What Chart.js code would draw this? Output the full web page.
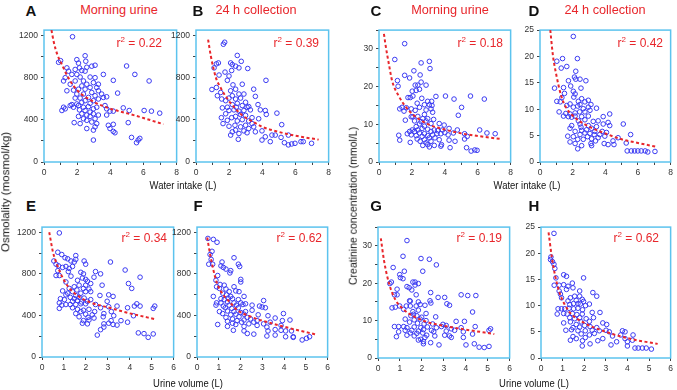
<!DOCTYPE html>
<html><head><meta charset="utf-8">
<script src="https://cdn.jsdelivr.net/npm/chart.js@4.4.1/dist/chart.umd.min.js"></script>
<style>
html,body{margin:0;padding:0;background:#fff}
body{width:677px;height:390px;position:relative;overflow:hidden;font-family:"Liberation Sans",Arial,sans-serif}
canvas{position:absolute}
.t{position:absolute;white-space:nowrap;line-height:1}
.letter{font-weight:bold;font-size:15px;color:#111;transform:translate(-50%,-50%)}
.title{font-size:12.7px;color:#e8262b;transform:translate(-50%,-50%)}
.r2{font-size:12px;color:#e8262b}
.r2 sup{font-size:8px;vertical-align:5px;line-height:0}
.xt{font-size:10.5px;color:#111;transform:translate(-50%,-50%) scaleX(0.9)}
.yt{color:#111;transform:translate(-50%,-50%) rotate(-90deg)}
</style></head><body>
<script>
// ---------- data ----------
const panelLetters = ['A','B','C','D','E','F','G','H'];
const panelTitles = ['Morning urine','24 h collection','Morning urine','24 h collection'];
const r2Values = ['0.22','0.39','0.18','0.42','0.34','0.62','0.19','0.62'];
const xTitles = ['Water intake (L)','Urine volume (L)'];
const yTitles = ['Osmolality (mosmol/kg)','Creatinine concentration (mmol/L)'];

// A: water intake vs osmolality, morning urine
const ptsA = [[1.72,1187],[2.48,1007],[2.52,955],[1.0,960],[0.88,945],[1.98,970],[2.08,937],[2.58,898],[2.14,892],[1.88,877],[2.28,867],[1.38,892],[1.48,861],[1.68,830],[1.98,830],[2.48,861],[2.88,908],[3.08,917],[1.28,799],[1.18,768],[2.18,805],[2.78,805],[3.08,799],[3.58,830],[1.88,768],[2.38,768],[4.18,774],[5.48,830],[6.34,768],[1.58,737],[2.28,721],[2.58,737],[2.98,752],[3.28,737],[2.08,690],[2.48,690],[2.78,706],[3.18,706],[1.38,675],[1.78,681],[3.28,675],[1.98,644],[2.38,644],[2.88,659],[3.48,644],[3.08,628],[2.18,606],[2.68,612],[1.88,606],[3.28,597],[3.58,612],[3.78,618],[2.48,581],[2.98,581],[2.28,566],[2.78,556],[1.98,550],[1.68,544],[4.44,653],[1.18,519],[1.28,504],[1.58,535],[1.78,519],[2.08,535],[2.38,519],[2.68,525],[2.98,504],[2.14,494],[2.48,488],[2.78,473],[3.18,519],[3.68,535],[3.78,504],[3.98,482],[4.18,482],[4.78,513],[5.14,488],[6.04,488],[6.48,482],[6.98,463],[1.08,488],[2.28,457],[2.58,445],[2.98,457],[3.28,445],[2.08,432],[2.78,432],[2.38,410],[3.08,410],[3.78,445],[2.58,395],[2.88,379],[3.18,364],[1.82,373],[2.18,364],[3.88,348],[4.18,357],[5.08,373],[3.08,333],[2.58,317],[3.98,317],[4.28,277],[4.18,290],[2.98,302],[5.28,233],[5.78,224],[5.58,183],[5.68,208],[2.98,208],[4.98,910]];
const fitA = [[0.45,1250],[0.6,1130],[0.8,1020],[1,950],[1.5,790],[2,680],[3,570],[4,505],[5,462],[6,417],[7.2,358]];

// B: water intake vs osmolality, 24 h
const ptsB = [[1.73,1135],[1.65,1116],[2.49,1010],[2.73,954],[1.35,939],[1.23,930],[2.09,939],[2.19,923],[2.39,908],[2.59,892],[2.15,867],[3.12,886],[1.09,892],[1.75,852],[1.39,824],[1.99,815],[1.89,774],[4.22,774],[2.79,737],[2.23,731],[0.96,687],[1.23,706],[2.09,675],[2.39,690],[3.48,690],[1.49,659],[1.29,628],[2.59,644],[2.89,644],[2.19,628],[3.58,622],[1.99,606],[2.39,597],[2.69,606],[1.55,597],[1.79,581],[2.99,566],[2.49,556],[2.19,544],[2.79,535],[3.18,525],[1.89,519],[1.59,513],[2.43,519],[3.08,519],[3.74,544],[1.99,488],[2.29,494],[2.59,482],[2.89,488],[3.28,494],[3.88,494],[4.18,488],[4.24,451],[4.88,463],[1.79,457],[2.69,451],[2.99,442],[2.39,432],[1.53,420],[2.15,420],[3.38,420],[2.79,401],[1.89,395],[2.49,389],[3.18,389],[3.78,410],[1.63,364],[2.35,348],[2.99,348],[3.38,364],[1.99,339],[2.69,333],[5.17,354],[3.18,317],[2.39,302],[2.89,295],[3.58,286],[3.98,295],[2.09,255],[2.59,270],[3.08,277],[4.18,239],[4.58,255],[4.78,255],[5.13,233],[5.57,255],[2.55,215],[3.98,208],[4.48,193],[5.33,183],[5.57,162],[5.77,171],[5.97,177],[6.33,193],[6.47,193],[6.97,177],[2.19,286],[3.48,333]];
const fitB = [[0.73,1160],[0.9,1000],[1.2,800],[1.5,700],[1.9,597],[2.3,520],[2.8,441],[3.4,385],[4,333],[5,285],[5.6,262],[6.5,235],[7.4,212]];

// C: water intake vs creatinine, morning urine
const ptsC = [[1.56,31.4],[0.96,27.2],[2.56,26.3],[3.06,26.7],[3.1,24.8],[2.12,24.2],[2.5,23.1],[1.56,23.0],[1.86,22.3],[1.12,21.6],[1.16,20.1],[2.56,21.2],[2.2,20.4],[2.36,20.4],[2.86,20.4],[2.02,18.8],[2.26,19.0],[2.46,19.3],[1.76,17.1],[1.9,17.1],[3.46,17.4],[4.04,17.5],[5.56,17.5],[6.4,16.7],[4.56,16.7],[2.06,17.5],[2.96,16.1],[3.2,16.1],[2.6,16.9],[2.32,15.6],[2.76,15.2],[3.06,15.2],[3.22,15.0],[2.46,14.5],[1.4,14.5],[1.26,14.1],[1.66,14.4],[1.96,14.1],[2.2,13.7],[2.86,13.8],[3.16,14.1],[1.52,13.5],[5.02,14.5],[2.76,12.6],[3.26,13.2],[2.06,12.0],[2.36,12.1],[2.66,11.5],[1.96,12.0],[1.6,11.1],[2.96,11.5],[4.82,12.4],[2.16,10.9],[2.56,10.7],[2.86,10.9],[3.32,11.3],[2.46,10.1],[3.16,10.2],[3.66,10.2],[3.96,9.8],[2.26,9.4],[2.76,9.5],[2.02,8.5],[2.36,8.5],[2.62,8.9],[2.96,8.7],[3.36,8.5],[4.26,8.9],[1.86,8.1],[2.16,8.1],[3.16,8.1],[3.56,8.3],[3.86,8.5],[4.76,8.5],[1.72,7.5],[2.46,7.7],[2.76,7.5],[3.52,7.5],[3.76,7.5],[4.0,7.8],[4.52,7.7],[6.12,8.5],[5.2,7.5],[1.96,7.2],[2.26,7.0],[2.62,6.8],[2.96,7.0],[3.26,7.2],[4.2,7.2],[6.56,7.7],[7.06,7.5],[1.2,7.1],[2.32,6.1],[2.76,5.9],[3.06,6.4],[3.4,6.4],[3.66,5.9],[5.36,6.8],[1.26,5.8],[2.5,5.5],[2.86,5.1],[3.16,5.5],[4.26,5.8],[5.2,6.1],[1.9,5.2],[2.96,4.6],[2.66,4.4],[3.36,4.4],[3.8,4.6],[4.62,5.5],[3.06,4.0],[4.32,3.8],[3.76,4.2],[5.32,3.8],[5.6,2.9],[5.82,3.2],[5.96,3.1]];
const fitC = [[0.3,34],[0.4,31],[0.6,26],[0.8,21.5],[1.2,17.5],[1.6,14.8],[2,12.8],[3,10],[4,8.6],[5,7.6],[6,6.9],[7.4,6.1]];

// D: water intake vs creatinine, 24 h
const ptsD = [[2.04,23.8],[1.38,19.6],[2.29,19.6],[1.03,19.1],[1.64,18.1],[1.3,17.8],[2.19,17.2],[2.11,16.1],[2.19,15.7],[2.45,15.7],[2.81,15.4],[1.74,15.4],[0.89,14.0],[1.88,14.4],[2.51,14.0],[2.04,13.4],[2.15,12.9],[1.44,14.1],[1.5,13.0],[1.34,12.2],[2.07,12.3],[2.55,12.0],[1.03,11.5],[1.24,11.4],[2.96,11.7],[2.35,11.5],[2.75,11.4],[1.84,11.0],[1.64,10.7],[2.45,10.9],[3.12,10.9],[3.46,10.2],[2.04,10.4],[2.31,10.6],[2.65,10.1],[2.96,10.4],[1.17,9.5],[1.58,9.2],[1.84,9.1],[2.15,9.3],[2.43,9.5],[2.75,9.5],[3.06,9.8],[1.44,8.7],[1.74,8.6],[1.94,8.5],[2.15,8.7],[2.55,8.6],[2.96,8.7],[4.27,9.1],[3.87,8.6],[2.35,7.8],[2.75,8.0],[3.26,7.7],[3.56,7.8],[4.17,7.5],[1.94,6.9],[2.45,7.2],[2.96,6.9],[3.87,7.2],[2.51,6.6],[3.16,6.4],[3.46,6.7],[1.84,6.4],[2.85,6.1],[4.27,6.9],[5.1,7.2],[2.15,5.8],[2.55,6.0],[3.36,5.8],[3.81,5.8],[2.75,5.5],[3.06,5.4],[2.45,5.2],[3.32,5.2],[3.66,5.2],[4.07,5.6],[5.55,5.2],[1.7,4.9],[2.04,4.8],[2.91,4.8],[3.16,4.4],[3.56,4.6],[3.97,4.9],[4.78,4.6],[2.31,4.3],[2.65,4.3],[4.47,4.0],[3.4,4.0],[1.84,3.8],[2.15,3.5],[3.12,3.5],[3.93,3.5],[4.17,3.3],[4.53,3.3],[5.28,3.6],[2.55,3.1],[3.16,3.1],[2.31,2.5],[5.34,2.1],[5.59,2.1],[5.79,2.1],[5.99,2.1],[6.2,2.1],[6.44,2.1],[6.6,1.9],[7.04,2.0]];
const fitD = [[0.63,25],[0.8,20],[1,16.5],[1.3,12.5],[1.6,10.3],[2,8.8],[2.7,7.2],[3.5,6],[4,5.4],[5,4.3],[6,3.6],[7.1,2.9]];

// E: urine volume vs osmolality, morning urine
const ptsE = [[0.79,1194],[0.72,1008],[0.9,986],[1.05,955],[1.17,945],[1.54,976],[1.54,939],[0.54,924],[0.64,893],[1.32,924],[1.47,914],[1.92,924],[1.99,893],[3.12,914],[0.75,877],[0.94,862],[1.09,871],[1.24,852],[1.39,871],[0.72,831],[1.2,822],[1.77,815],[1.89,800],[2.44,822],[3.79,837],[0.64,784],[0.79,784],[1.32,778],[1.84,760],[1.99,747],[2.67,800],[2.37,768],[4.47,768],[1.62,738],[2.07,729],[1.09,722],[1.69,691],[1.99,691],[2.22,707],[2.74,691],[3.94,707],[1.24,660],[1.47,676],[1.89,660],[2.14,654],[0.94,636],[1.39,629],[1.59,645],[2.22,629],[4.09,660],[1.17,614],[1.77,614],[1.99,629],[3.04,598],[1.09,598],[1.54,592],[2.64,592],[3.24,583],[0.84,561],[1.29,574],[1.47,561],[1.69,574],[1.92,567],[2.22,552],[1.02,552],[1.39,536],[1.62,543],[1.8,530],[2.07,536],[1.29,505],[1.54,505],[1.77,512],[1.99,512],[2.44,505],[2.97,536],[0.79,521],[0.9,499],[1.09,505],[3.04,484],[3.42,490],[3.9,474],[4.32,512],[4.47,490],[4.21,490],[5.14,490],[5.07,468],[0.79,468],[1.39,474],[1.62,459],[1.89,450],[2.14,459],[2.67,474],[1.77,437],[2.4,437],[2.82,418],[3.16,437],[1.54,418],[1.99,412],[2.29,406],[2.79,387],[3.27,397],[1.69,387],[2.1,381],[2.37,375],[4.17,397],[1.89,350],[3.15,350],[3.6,350],[3.9,335],[3.04,325],[2.14,356],[2.82,319],[1.84,325],[3.24,313],[3.42,307],[2.07,319],[2.82,288],[2.67,263],[2.52,211],[4.39,232],[4.65,225],[5.07,222],[4.84,189]];
const fitE = [[0.33,1200],[0.5,1010],[0.7,880],[1,740],[1.3,650],[1.7,580],[2.2,525],[3,478],[4,420],[5.2,362]];

// F: urine volume vs osmolality, 24 h
const ptsF = [[0.75,1132],[0.92,1104],[0.5,1141],[0.69,1017],[0.6,986],[0.65,939],[0.54,893],[0.72,893],[1.15,914],[1.1,877],[1.21,862],[1.7,955],[1.9,893],[1.96,871],[1.33,846],[1.55,831],[1.51,809],[0.95,784],[0.87,738],[2.01,747],[2.01,722],[0.9,676],[1.06,698],[1.25,691],[1.7,676],[1.03,660],[1.33,654],[1.48,629],[1.18,614],[1.78,636],[1.93,629],[0.75,583],[1.36,598],[1.55,583],[2.16,583],[1.1,561],[1.25,552],[1.43,567],[1.63,561],[1.9,552],[3.06,543],[0.9,521],[1.1,521],[1.4,530],[1.7,521],[2.01,521],[2.23,512],[0.87,499],[1.21,490],[1.48,499],[1.81,499],[2.11,505],[2.53,499],[2.87,490],[2.99,481],[1.3,474],[1.6,468],[1.9,474],[3.14,474],[1.03,437],[1.4,443],[1.7,437],[2.01,428],[2.23,437],[2.53,450],[1.18,418],[1.55,406],[1.78,412],[2.16,412],[2.81,406],[3.97,418],[1.33,381],[1.93,387],[2.31,381],[3.26,397],[1.63,366],[1.84,350],[2.16,356],[2.46,366],[2.76,350],[3.59,375],[1.4,344],[1.63,325],[2.05,335],[2.61,335],[4.27,356],[3.92,350],[0.95,313],[1.78,313],[2.38,319],[3.06,319],[3.36,335],[1.4,295],[2.16,295],[2.76,304],[3.21,288],[3.86,304],[1.67,257],[2.16,251],[3.26,251],[3.59,264],[3.86,257],[4.07,251],[4.34,251],[2.31,226],[2.61,220],[3.21,202],[3.59,211],[4.07,195],[4.42,195],[4.42,189],[4.83,164],[5.03,180],[5.17,195]];
const fitF = [[0.47,1150],[0.6,990],[0.75,840],[0.9,720],[1.2,600],[1.5,530],[1.8,460],[2.5,385],[3.5,320],[4.3,275],[5,240],[5.5,215]];

// G: urine volume vs creatinine, morning urine
const ptsG = [[1.32,31.4],[1.14,27.2],[1.96,26.6],[2.34,26.4],[2.66,24.9],[0.69,24.2],[2.04,23.2],[1.2,23.2],[0.99,22.3],[1.02,21.5],[1.14,21.2],[1.59,20.3],[1.69,20.3],[1.84,19.9],[0.61,20.3],[0.54,19.9],[1.32,19.1],[1.42,18.8],[1.69,19.5],[0.87,18.4],[1.54,18.2],[2.4,17.5],[0.75,16.9],[0.87,16.9],[1.74,16.9],[2.74,16.2],[3.04,16.2],[3.79,16.9],[4.09,16.7],[4.46,16.7],[1.44,15.3],[1.47,15.2],[1.84,15.0],[2.37,15.3],[2.41,14.7],[3.14,14.5],[3.26,14.1],[1.92,14.3],[0.64,13.4],[0.79,13.6],[0.99,13.9],[1.29,13.9],[1.47,13.9],[1.74,13.9],[2.14,14.1],[1.17,13.0],[1.59,12.4],[1.84,12.8],[2.19,11.9],[1.62,11.7],[4.31,12.3],[1.5,11.3],[1.77,11.3],[1.99,10.9],[2.63,11.0],[1.24,10.4],[1.65,10.2],[1.92,10.4],[2.19,10.0],[3.56,9.8],[3.94,9.8],[1.44,9.6],[1.8,9.3],[2.1,9.1],[2.49,9.1],[2.96,9.0],[3.11,8.7],[4.43,8.4],[0.75,8.4],[0.94,8.4],[1.17,8.4],[1.32,8.1],[1.65,8.3],[1.95,8.1],[2.25,8.3],[2.66,8.1],[2.89,8.4],[3.34,7.8],[3.79,8.1],[5.06,7.4],[5.13,7.8],[1.24,7.4],[1.54,7.4],[1.84,7.2],[2.07,7.6],[2.44,7.4],[1.47,6.7],[1.77,6.6],[2.04,6.7],[2.54,7.0],[3.11,7.2],[3.49,7.4],[3.89,7.0],[0.94,7.0],[1.32,6.1],[1.65,5.9],[2.22,6.1],[2.59,5.9],[3.04,6.1],[3.26,5.9],[3.34,5.5],[0.84,5.7],[1.95,5.0],[2.14,5.5],[3.89,5.5],[4.31,6.4],[1.84,4.8],[2.07,4.4],[2.4,4.1],[2.78,3.5],[4.01,3.5],[4.39,3.8],[4.61,2.9],[4.84,2.8],[5.06,3.1],[2.07,3.8]];
const fitG = [[0.13,32],[0.27,26.2],[0.5,20],[0.8,15.5],[1.2,12.8],[1.6,11.2],[2.2,9.7],[3,8.6],[4,7.6],[5.3,6.4]];

// H: urine volume vs creatinine, 24 h
const ptsH = [[0.6,23.8],[0.44,18.8],[0.46,19.3],[0.53,18.4],[0.6,17.9],[0.64,17.1],[0.69,15.3],[0.61,13.9],[0.84,13.9],[1.05,15.9],[1.18,15.6],[1.97,15.3],[1.45,14.3],[1.05,14.0],[1.25,13.7],[0.84,12.8],[0.9,12.2],[1.48,13.4],[1.79,12.8],[1.18,13.1],[1.56,11.8],[0.95,11.5],[1.36,11.5],[1.79,11.8],[1.91,11.2],[1.63,11.0],[1.25,10.9],[2.4,12.5],[2.58,11.8],[1.97,10.8],[1.51,10.4],[1.71,10.4],[1.82,10.3],[1.33,10.2],[2.24,10.3],[2.06,10.0],[0.79,9.4],[0.95,9.4],[1.1,9.4],[1.3,9.5],[1.51,9.4],[1.71,9.5],[1.92,9.2],[0.75,8.4],[1.05,8.5],[1.21,8.4],[1.45,8.5],[1.66,8.3],[1.91,8.4],[2.37,8.7],[2.73,8.7],[1.33,7.7],[1.56,7.5],[1.79,7.7],[2.09,7.5],[2.43,7.7],[1.36,6.9],[1.86,6.9],[2.24,7.0],[1.05,6.7],[1.63,6.4],[2.02,6.2],[2.86,6.7],[3.04,6.4],[1.48,5.8],[1.79,5.9],[2.27,6.0],[2.58,5.8],[1.15,5.3],[1.41,5.4],[1.71,5.2],[2.05,5.2],[2.37,5.3],[2.7,5.2],[3.01,5.3],[3.16,5.0],[3.77,5.2],[3.89,5.0],[1.86,4.6],[2.24,4.4],[2.47,4.7],[3.31,4.2],[3.69,4.4],[4.26,4.4],[1.48,4.1],[1.63,3.7],[2.05,3.9],[2.86,3.7],[3.89,3.7],[1.36,3.4],[1.92,3.3],[2.63,3.3],[3.5,3.1],[4.0,3.1],[4.23,3.4],[2.27,2.7],[3.24,2.5],[4.0,2.3],[1.91,2.3],[4.35,1.9],[4.5,1.9],[4.69,1.9],[4.87,1.9],[5.11,1.7]];
const fitH = [[0.35,24],[0.5,19.3],[0.65,15.8],[0.87,12.3],[1.1,10.2],[1.4,8.4],[2,6.7],[3,5],[4.2,3.6],[5.4,2.7]];

// ---------- layout ----------
const panels = [
  {pts:ptsA, fit:fitA, box:[44,27,178,162], xmax:8, xlab:2, ymax:1250, ystep:200, ylab:400, r2x:162, r2y:44},
  {pts:ptsB, fit:fitB, box:[196,27,330,162], xmax:8, xlab:2, ymax:1250, ystep:200, ylab:400, r2x:319, r2y:44},
  {pts:ptsC, fit:fitC, box:[379,27,512,162], xmax:8, xlab:2, ymax:35, ystep:5, ylab:10, r2x:503, r2y:44},
  {pts:ptsD, fit:fitD, box:[540,27,672,162], xmax:8, xlab:2, ymax:25, ystep:5, ylab:5, r2x:663, r2y:44},
  {pts:ptsE, fit:fitE, box:[42,224,175,357], xmax:6, xlab:1, ymax:1250, ystep:200, ylab:400, r2x:167, r2y:239},
  {pts:ptsF, fit:fitF, box:[197,224,329,357], xmax:6, xlab:1, ymax:1250, ystep:200, ylab:400, r2x:322, r2y:239},
  {pts:ptsG, fit:fitG, box:[378,224,511,358], xmax:6, xlab:1, ymax:35, ystep:5, ylab:10, r2x:502, r2y:239},
  {pts:ptsH, fit:fitH, box:[541,224,672,358], xmax:6, xlab:1, ymax:25, ystep:5, ylab:5, r2x:659, r2y:239}
];
const letterPos = [[31,10],[198,10],[376,10],[534,10],[31,205],[198,205],[376,205],[534,205]];
const titlePos = [[119,10],[256,10],[450,10],[605,10]];

Chart.defaults.font.family = '"Liberation Sans", Arial, sans-serif';

const frame = {id:'frame', beforeDatasetsDraw(ch){
  const a = ch.chartArea, ctx = ch.ctx;
  ctx.save(); ctx.strokeStyle = '#5cc3ee'; ctx.lineWidth = 1.5;
  ctx.strokeRect(a.left, a.top, a.right - a.left, a.bottom - a.top);
  ctx.restore();
}};

function addText(cls, html, x, y, extra){
  const d = document.createElement('div');
  d.className = 't ' + cls; d.innerHTML = html;
  d.style.left = x + 'px'; d.style.top = y + 'px';
  if (extra) Object.assign(d.style, extra);
  document.body.appendChild(d);
  return d;
}

panels.forEach((p, i) => {
  const padL = 40, padT = 5, padR = 4, padB = 22;
  const bw = p.box[2] - p.box[0], bh = p.box[3] - p.box[1];
  const w = bw + padL + padR, h = bh + padT + padB;
  const c = document.createElement('canvas');
  c.width = w; c.height = h;
  c.style.left = (p.box[0] - padL) + 'px'; c.style.top = (p.box[1] - padT) + 'px';
  c.style.width = w + 'px'; c.style.height = h + 'px';
  document.body.appendChild(c);
  new Chart(c, {
    type: 'scatter',
    data: {datasets: [
      {data: p.fit.map(q => ({x:q[0], y:q[1]})), showLine:true, pointRadius:0, borderColor:'#e8262b',
       borderWidth:2, borderDash:[3,2.5], cubicInterpolationMode:'monotone', fill:false, order:0},
      {data: p.pts.map(q => ({x:q[0], y:q[1]})), pointRadius:2.3, pointBorderWidth:1,
       pointBorderColor:'#3a3af2', pointBackgroundColor:'rgba(255,255,255,0)', order:1}
    ]},
    options: {
      responsive:false, animation:false, devicePixelRatio:1,
      layout:{padding:{left:0, top:padT, right:padR, bottom:0}},
      plugins:{legend:{display:false}, tooltip:{enabled:false}},
      scales:{
        x:{type:'linear', min:0, max:p.xmax, afterFit:s => { s.height = padB; },
           ticks:{stepSize:1, includeBounds:false, autoSkip:false, maxRotation:0, padding:3,
                  font:{size:8.5}, color:'#333', callback:v => (Math.round(v) % p.xlab === 0 ? String(v) : '')},
           grid:{drawOnChartArea:false, drawTicks:true, tickLength:3, color:'#444'}, border:{display:false}},
        y:{type:'linear', min:0, max:p.ymax, afterFit:s => { s.width = padL; },
           ticks:{stepSize:p.ystep, includeBounds:false, autoSkip:false, padding:3,
                  font:{size:8.5}, color:'#333', callback:v => (Math.round(v) % p.ylab === 0 ? String(v) : '')},
           grid:{drawOnChartArea:false, drawTicks:true, tickLength:3, color:'#444'}, border:{display:false}}
      }
    },
    plugins:[frame]
  });
  addText('letter', panelLetters[i], letterPos[i][0], letterPos[i][1]);
  if (i < 4) addText('title', panelTitles[i], titlePos[i][0], titlePos[i][1]);
  addText('r2', 'r<sup>2</sup> = ' + r2Values[i], 0, p.r2y - 7, {right:(677 - p.r2x) + 'px', left:'auto'});
});

addText('xt', xTitles[0], 183, 185);
addText('xt', xTitles[0], 527, 185);
addText('xt', xTitles[1], 188, 383);
addText('xt', xTitles[1], 534, 383);
addText('yt', yTitles[0], 6, 192, {fontSize:'11.5px'});
addText('yt', yTitles[1], 353, 206, {fontSize:'10.5px'});
</script>
</body></html>
